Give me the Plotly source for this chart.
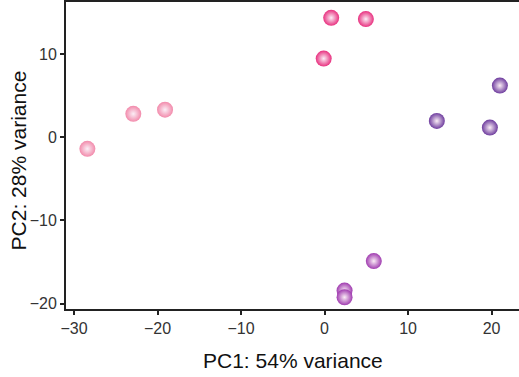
import plotly.graph_objects as go

# PCA scores per group
group_names = ["Group A", "Group B", "Group C", "Group D"]
pc1_a = [-28.4, -22.9, -19.1]
pc2_a = [-1.4, 2.8, 3.3]
pc1_b = [0.8, 4.95, -0.1]
pc2_b = [14.35, 14.2, 9.45]
pc1_c = [21.0, 13.45, 19.8]
pc2_c = [6.2, 1.95, 1.15]
pc1_d = [5.9, 2.4, 2.4]
pc2_d = [-14.9, -18.45, -19.25]
colors = ["#f28aab", "#e8307f", "#6e3c9e", "#a03cb0"]

x_ticks = [-30, -20, -10, 0, 10, 20]
y_ticks = [-20, -10, 0, 10]
x_title = "PC1: 54% variance"
y_title = "PC2: 28% variance"

fig = go.Figure()
for name, xs, ys, c in zip(group_names, [pc1_a, pc1_b, pc1_c, pc1_d],
                           [pc2_a, pc2_b, pc2_c, pc2_d], colors):
    fig.add_trace(go.Scatter(
        x=xs, y=ys, mode="markers", name=name, showlegend=False, cliponaxis=False,
        marker=dict(size=16, color=c, line=dict(width=0),
                    gradient=dict(type="radial", color="#fbeef6")),
    ))

axis_font = dict(family="Liberation Sans, Arial, sans-serif", size=16, color="#333333")
title_font = dict(family="Liberation Sans, Arial, sans-serif", size=21, color="#111111")

def fmt(v):
    return str(v).replace("-", "\u2212")

fig.update_layout(
    width=519, height=377,
    margin=dict(l=66, r=0, t=2, b=68, autoexpand=False),
    paper_bgcolor="white", plot_bgcolor="white",
    xaxis=dict(range=[-30.96, 23.29], tickvals=x_ticks, ticktext=[fmt(v) for v in x_ticks],
               showgrid=False, zeroline=False, showline=True, linecolor="#222222", linewidth=2,
               mirror=True, ticks="outside", ticklen=4, tickwidth=2, tickcolor="#222222",
               tickfont=axis_font, automargin=False),
    yaxis=dict(range=[-20.66, 16.25], tickvals=y_ticks, ticktext=[fmt(v) for v in y_ticks],
               showgrid=False, zeroline=False, showline=True, linecolor="#222222", linewidth=2,
               ticks="outside", ticklen=4, tickwidth=2, tickcolor="#222222",
               tickfont=axis_font, automargin=False),
    annotations=[
        dict(text=x_title, xref="paper", yref="paper", x=0.5, y=0, xanchor="center",
             yanchor="middle", yshift=-51, showarrow=False, font=title_font),
        dict(text=y_title, xref="paper", yref="paper", x=0, y=0.484, xanchor="center",
             yanchor="middle", xshift=-48, textangle=-90, showarrow=False, font=title_font),
    ],
)

fig.write_html("out.html", config={"displayModeBar": False},
               post_script="document.body.style.margin='0';document.body.style.overflow='hidden';")
